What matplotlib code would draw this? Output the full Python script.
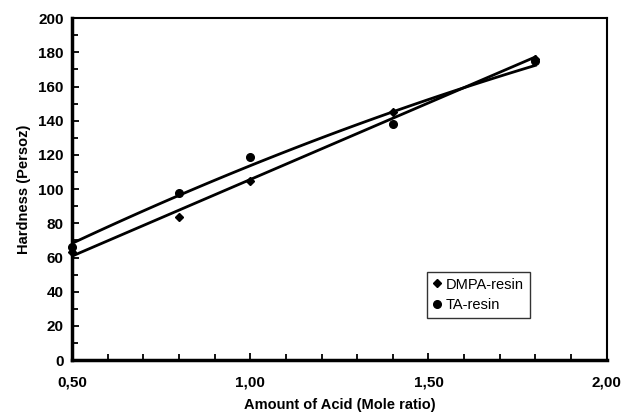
import numpy as np
import matplotlib
matplotlib.use('Agg')
import matplotlib.pyplot as plt
from matplotlib.ticker import MultipleLocator, FuncFormatter

plt.rcParams['font.family'] = ['Liberation Sans', 'DejaVu Sans']

# data
acid = [0.5, 0.8, 1.0, 1.4, 1.8]
dmpa = [63, 84, 105, 145, 176]
ta = [66, 98, 119, 138, 175]

fig = plt.figure(figsize=(6.21, 4.13), dpi=100)
ax = fig.add_axes([0.116, 0.128, 0.861, 0.828])

# trend lines
xs = np.linspace(0.5, 1.8, 100)
ax.plot(xs, np.polyval(np.polyfit(acid, dmpa, 1), xs), color='black', lw=2)
ax.plot(xs, np.polyval(np.polyfit(acid, ta, 2), xs), color='black', lw=2)

ax.plot(acid, dmpa, 'D', color='black', ms=3.8, label='DMPA-resin', clip_on=False)
ax.plot(acid, ta, 'o', color='black', ms=5.5, label='TA-resin', clip_on=False)

ax.set_xlim(0.5, 2.0)
ax.set_ylim(0, 200)
ax.xaxis.set_major_locator(MultipleLocator(0.5))
ax.xaxis.set_minor_locator(MultipleLocator(0.1))
ax.yaxis.set_major_locator(MultipleLocator(20))
ax.yaxis.set_minor_locator(MultipleLocator(10))
ax.xaxis.set_major_formatter(FuncFormatter(lambda v, p: ('%.2f' % v).replace('.', ',')))
ax.tick_params(which='both', direction='in', top=False, right=False, width=1.3)
ax.tick_params(which='major', length=5, labelsize=11, pad=11)
ax.tick_params(axis='y', which='major', pad=6)
ax.tick_params(which='minor', length=4)
for lbl in ax.get_xticklabels() + ax.get_yticklabels():
    lbl.set_fontweight('bold')
for s in ax.spines.values():
    s.set_linewidth(1.5)
ax.spines['left'].set_linewidth(2.5)
ax.spines['bottom'].set_linewidth(2.5)

ax.set_xlabel('Amount of Acid (Mole ratio)', fontsize=10.5, fontweight='bold', labelpad=6)
ax.set_ylabel('Hardness (Persoz)', fontsize=10.5, fontweight='bold', labelpad=5)

leg = ax.legend(loc='upper left', bbox_to_anchor=(0.65, 0.28), fontsize=10.5,
                frameon=True, fancybox=False, edgecolor='black', handlelength=0.6,
                handletextpad=0.3, borderpad=0.4, labelspacing=0.45)
leg.get_frame().set_linewidth(1)

fig.savefig('out.png', dpi=100)
